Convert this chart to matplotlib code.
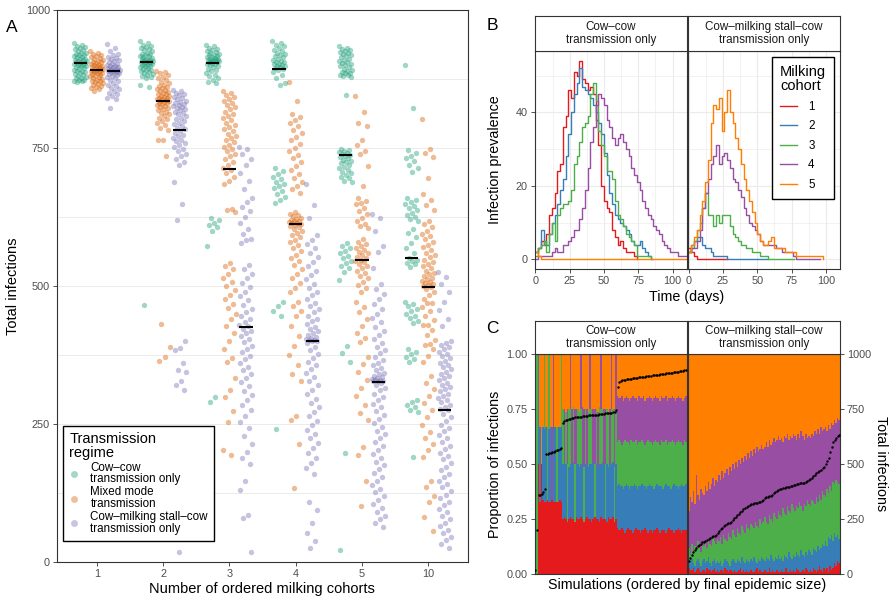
import numpy as np
import matplotlib
matplotlib.use("Agg")
import matplotlib.pyplot as plt
from matplotlib.lines import Line2D

plt.rcParams['font.family'] = ['Liberation Sans', 'DejaVu Sans']

# ---------------- Panel A: total infections per simulation ----------------
cohort_groups = ['1', '2', '3', '4', '5', '10']
regime_names = ['Cow\u2013cow\ntransmission only', 'Mixed mode\ntransmission',
                'Cow\u2013milking stall\u2013cow\ntransmission only']
regime_colors = ['#1B9E77', '#D95F02', '#7570B3']

cc_1 = [940, 937, 935, 933, 931, 929, 927, 925, 923, 922, 920, 919, 918, 916, 915, 914, 912, 911, 910, 909,
        908, 907, 906, 905, 904, 903, 902, 901, 900, 899, 898, 896, 895, 893, 892, 890, 889, 887, 885, 884,
        882, 880, 879, 877, 876, 874, 873, 872, 871, 870]
mix_1 = [925, 923, 921, 919, 917, 915, 913, 911, 909, 908, 906, 905, 904, 903, 901, 900, 899, 898, 897, 896,
         895, 894, 893, 892, 891, 890, 889, 888, 887, 886, 885, 884, 882, 881, 880, 878, 877, 875, 874, 872,
         871, 869, 867, 866, 864, 862, 860, 858, 856, 854]
stall_1 = [938, 932, 925, 921, 918, 915, 913, 911, 909, 907, 905, 903, 902, 900, 899, 898, 897, 896, 895, 894,
           893, 892, 891, 891, 890, 890, 889, 888, 887, 886, 885, 884, 882, 880, 878, 876, 874, 871, 868, 865,
           862, 859, 856, 853, 850, 847, 844, 841, 838, 822]
cc_2 = [943, 940, 937, 935, 933, 931, 929, 927, 925, 923, 921, 920, 918, 917, 916, 915, 913, 912, 911, 910,
        909, 908, 907, 907, 906, 906, 905, 904, 903, 902, 901, 900, 899, 898, 897, 895, 894, 892, 891, 889,
        887, 886, 884, 882, 880, 878, 876, 865, 860, 465]
mix_2 = [889, 887, 885, 882, 878, 876, 873, 870, 868, 865, 863, 861, 859, 857, 855, 853, 851, 850, 848, 847,
         845, 844, 842, 841, 840, 839, 838, 837, 836, 835, 834, 832, 831, 829, 828, 826, 824, 822, 820, 818,
         816, 813, 811, 808, 805, 802, 799, 795, 791, 787, 783, 765, 764, 736, 431, 389, 372, 364]
stall_2 = [855, 853, 850, 848, 846, 843, 840, 838, 836, 834, 832, 830, 828, 826, 824, 822, 820, 818, 816, 813,
           811, 808, 805, 802, 799, 796, 793, 790, 787, 784, 780, 777, 774, 771, 768, 765, 762, 759, 756, 752,
           748, 744, 740, 735, 730, 725, 720, 689, 649, 620, 401, 388, 384, 361, 347, 344, 328, 320, 311, 19]
cc_3 = [937, 935, 932, 930, 928, 926, 924, 922, 921, 919, 918, 917, 915, 914, 913, 912, 911, 910, 909, 909,
        908, 907, 907, 906, 905, 904, 903, 902, 900, 898, 896, 894, 892, 889, 886, 883, 880, 877, 873, 870,
        867, 624, 620, 615, 611, 606, 600, 572, 299, 290]
mix_3 = [854, 850, 846, 842, 838, 835, 831, 828, 824, 820, 816, 812, 808, 804, 800, 796, 792, 788, 784, 780,
         776, 772, 768, 764, 760, 756, 752, 748, 744, 740, 735, 730, 725, 720, 714, 710, 705, 698, 690, 684,
         640, 637, 634, 541, 536, 530, 522, 515, 508, 500, 492, 484, 476, 468, 460, 450, 440, 428, 415, 400,
         385, 370, 363, 334, 312, 299, 273, 254, 203, 193]
stall_3 = [752, 748, 740, 730, 720, 705, 690, 675, 660, 652, 643, 635, 625, 615, 604, 595, 586, 583, 577, 538,
           530, 522, 514, 506, 498, 490, 482, 474, 466, 459, 452, 446, 440, 435, 430, 427, 423, 419, 414, 409,
           404, 398, 392, 386, 380, 374, 368, 361, 354, 347, 340, 333, 326, 318, 310, 302, 293, 284, 275, 265,
           254, 242, 228, 214, 200, 189, 178, 146, 130, 86, 79, 19]
cc_4 = [943, 940, 937, 934, 931, 928, 925, 922, 920, 918, 916, 914, 912, 910, 908, 906, 905, 903, 902, 900,
        899, 898, 896, 895, 894, 892, 888, 882, 876, 868, 864, 714, 708, 702, 697, 693, 689, 685, 681, 677,
        672, 667, 661, 655, 650, 471, 463, 455, 446, 241]
mix_4 = [870, 835, 812, 806, 800, 795, 789, 783, 777, 770, 764, 757, 750, 744, 738, 731, 724, 717, 710, 703,
         696, 689, 682, 675, 669, 634, 631, 628, 626, 624, 622, 620, 618, 617, 616, 615, 614, 613, 611, 609,
         606, 603, 600, 596, 592, 588, 584, 579, 574, 569, 563, 557, 551, 545, 538, 530, 522, 514, 505, 497,
         490, 471, 463, 455, 446, 427, 410, 392, 375, 356, 340, 328, 264, 257, 213, 134]
stall_4 = [685, 647, 624, 592, 584, 576, 568, 560, 552, 544, 536, 528, 520, 512, 504, 497, 490, 483, 476, 470,
           464, 458, 452, 446, 441, 436, 431, 426, 422, 418, 414, 411, 408, 406, 404, 403, 402, 401, 400, 396,
           390, 384, 377, 370, 363, 356, 349, 342, 335, 328, 320, 312, 304, 296, 288, 280, 272, 264, 256, 248,
           240, 232, 224, 216, 207, 198, 189, 180, 170, 159, 108, 95, 70, 52, 38, 25]
cc_5 = [934, 932, 930, 928, 926, 924, 922, 920, 918, 916, 914, 912, 910, 908, 906, 904, 902, 900, 898, 896,
        894, 892, 890, 888, 886, 885, 883, 882, 880, 879, 846, 749, 747, 745, 743, 741, 739, 737, 735, 733,
        731, 729, 727, 725, 722, 719, 716, 713, 710, 707, 704, 701, 698, 695, 691, 688, 577, 572, 568, 563,
        559, 555, 550, 546, 541, 537, 532, 526, 510, 391, 378, 363, 197, 22]
mix_5 = [844, 815, 796, 790, 765, 755, 745, 739, 717, 682, 660, 654, 650, 648, 642, 636, 630, 624, 618, 612,
         608, 605, 585, 580, 576, 572, 568, 565, 562, 559, 556, 553, 550, 548, 546, 543, 540, 536, 532, 528,
         524, 519, 514, 508, 502, 496, 490, 471, 462, 452, 440, 428, 415, 405, 398, 372, 358, 345, 330, 316,
         300, 285, 270, 257, 209, 193, 146, 101]
stall_5 = [631, 624, 600, 573, 561, 532, 503, 494, 485, 476, 467, 458, 450, 442, 434, 426, 418, 411, 404, 397,
           390, 384, 378, 372, 366, 361, 356, 351, 347, 343, 340, 337, 335, 333, 331, 330, 329, 328, 327, 327,
           325, 321, 316, 311, 305, 299, 293, 287, 280, 273, 266, 259, 252, 245, 238, 231, 224, 217, 210, 203,
           196, 189, 182, 175, 168, 161, 154, 147, 140, 133, 126, 119, 112, 105, 98, 91, 84, 77, 70, 63]
cc_10 = [900, 822, 746, 741, 736, 731, 726, 720, 713, 707, 660, 656, 652, 648, 645, 641, 637, 633, 629, 625,
         621, 618, 603, 596, 588, 578, 568, 559, 550, 548, 545, 542, 539, 535, 471, 467, 463, 458, 454, 450,
         446, 442, 437, 433, 385, 381, 376, 372, 367, 363, 293, 289, 285, 280, 276, 271, 191]
mix_10 = [802, 749, 741, 733, 696, 666, 656, 647, 637, 618, 612, 606, 600, 595, 590, 585, 580, 575, 570, 565,
          560, 556, 552, 548, 544, 540, 536, 532, 528, 524, 521, 518, 515, 512, 509, 507, 505, 503, 501, 500,
          498, 494, 490, 484, 477, 470, 470, 462, 454, 446, 438, 430, 430, 421, 412, 403, 395, 394, 385, 374,
          363, 337, 325, 313, 300, 288, 275, 262, 248, 235, 224, 213, 202, 191, 146, 135, 120, 108, 82, 57]
stall_10 = [525, 516, 503, 490, 471, 456, 441, 427, 401, 397, 393, 389, 385, 381, 377, 373, 369, 365, 361, 357,
            353, 349, 345, 341, 337, 333, 329, 325, 321, 317, 313, 309, 305, 301, 297, 293, 289, 285, 281, 277,
            275, 269, 262, 256, 249, 243, 237, 230, 224, 218, 211, 205, 198, 192, 186, 179, 173, 167, 160, 154,
            147, 141, 135, 128, 122, 116, 109, 103, 96, 90, 84, 77, 71, 65, 58, 52, 46, 39, 32, 25]

# ---------------- Panel B: prevalence per milking cohort (every 2 days) ----------------
cohort_ids = ['1', '2', '3', '4', '5']
set1 = ['#E41A1C', '#377EB8', '#4DAF4A', '#984EA3', '#FF7F00']

prev_cc_1 = [2, 3, 5, 4, 7, 12, 14, 18, 24, 26, 36, 39, 46, 44, 51, 50, 54, 49, 48, 46, 47, 45, 38, 31, 20,
             16, 14, 13, 8, 6, 4, 5, 3, 2, 2, 2, 1, 0]
prev_cc_2 = [2, 3, 8, 5, 4, 7, 10, 12, 15, 19, 22, 28, 34, 40, 45, 48, 52, 47, 46, 45, 44, 42, 40, 37, 34,
             29, 23, 18, 15, 12, 11, 10, 9, 8, 7, 5, 4, 4, 5, 3, 2, 1, 0]
prev_cc_3 = [1, 3, 4, 5, 2, 7, 10, 5, 12, 14, 15, 15, 16, 19, 26, 28, 32, 36, 37, 39, 45, 48, 43, 35, 31,
             28, 24, 24, 22, 16, 12, 11, 9, 7, 6, 5, 4, 1, 1, 1, 1, 1, 0]
prev_cc_4 = [0, 1, 1, 1, 1, 1, 2, 3, 2, 2, 4, 4, 5, 6, 8, 8, 11, 14, 19, 25, 32, 36, 42, 45, 44, 42, 38, 36,
             33, 31, 33, 34, 32, 30, 28, 25, 23, 21, 19, 16, 14, 12, 11, 9, 8, 7, 5, 4, 3, 2, 2, 2, 1, 1, 1]
prev_cc_5 = [2, 1, 0]
end_cc = [74, 84, 85, 110, 110]

prev_st_1 = [3, 2, 1, 0]
prev_st_2 = [2, 4, 5, 6, 6, 4, 3, 3, 2, 1, 1, 1, 1, 1, 0]
prev_st_3 = [2, 3, 5, 8, 10, 14, 18, 12, 12, 9, 12, 10, 12, 12, 12, 9, 7, 6, 5, 4, 4, 3, 3, 2, 2, 2, 1, 1,
             1, 0]
prev_st_4 = [2, 3, 3, 5, 8, 14, 18, 22, 26, 28, 31, 26, 28, 29, 27, 25, 22, 21, 19, 17, 14, 12, 10, 9, 8, 7,
             5, 4, 4, 4, 4, 4, 3, 3, 2, 2, 2, 2, 1, 0]
prev_st_5 = [2, 4, 6, 8, 12, 16, 21, 27, 37, 42, 41, 44, 35, 40, 46, 40, 37, 33, 30, 26, 22, 19, 16, 13, 10,
             7, 5, 4, 4, 5, 6, 3, 3, 3, 3, 2, 2, 2, 2, 1, 1, 1, 1, 1, 1, 1, 1, 1, 1, 0]
end_st = [28, 58, 77, 96, 98]

# ---------------- Panel C: share of infections per cohort (cumulative %, red..purple) ----------------
tot_cc = [20, 200, 360, 362, 366, 372, 390, 545, 548, 550, 552, 555, 557, 560, 563, 566, 570, 575,
          690, 695, 700, 703, 706, 708, 710, 712, 713, 714, 715, 716, 717, 718, 719, 720, 721, 722, 722, 723,
          724, 725, 725, 726, 727, 728, 729, 730, 731, 732, 733, 734, 735, 736, 740, 748,
          853, 876, 880, 882, 884, 885, 887, 888, 889, 890, 891, 892, 893, 894, 895, 896, 897, 898, 899, 900,
          901, 902, 903, 904, 905, 906, 907, 908, 909, 910, 911, 912, 913, 914, 915, 916, 917, 918, 919, 920,
          921, 922, 924, 926, 928, 930]
cum_cc_red = [92, 0, 50, 33, 50, 34, 33, 33, 34, 33, 33, 34, 33, 33, 33, 33, 34, 33,
              25, 26, 25, 24, 25, 26, 25, 25, 24, 26, 25, 25, 26, 25, 24, 25, 26, 25, 25, 24, 25, 26, 25, 25,
              24, 26, 25, 25, 25, 24, 26, 25, 25, 26, 24, 25,
              21, 20, 20, 21, 20, 19, 20, 21, 20, 20, 19, 20, 21, 20, 20, 19, 20, 20, 21, 20, 19, 20, 20, 19,
              20, 20, 21, 20, 19, 20, 20, 20, 19, 20, 21, 20, 20, 19, 20, 20, 21, 20, 19, 20, 20, 20]
cum_cc_blue = [92, 0, 100, 67, 50, 67, 66, 67, 34, 66, 67, 34, 66, 67, 33, 67, 67, 67,
               50, 51, 50, 24, 49, 50, 50, 51, 24, 50, 50, 49, 50, 51, 24, 50, 50, 49, 50, 50, 51, 26, 50, 49,
               50, 50, 51, 50, 25, 50, 49, 50, 50, 51, 24, 50,
               40, 41, 40, 40, 39, 40, 41, 40, 39, 40, 40, 41, 40, 39, 40, 40, 41, 40, 40, 39, 40, 41, 40, 40,
               39, 40, 41, 40, 40, 40, 39, 40, 41, 40, 40, 39, 40, 41, 40, 40, 39, 40, 41, 40, 40, 41]
cum_cc_green = [95, 100, 100, 67, 50, 67, 100, 67, 67, 100, 67, 34, 66, 67, 67, 67, 67, 100,
                75, 51, 74, 50, 75, 75, 50, 76, 50, 50, 75, 74, 75, 51, 49, 75, 50, 74, 75, 75, 51, 50, 75, 49,
                76, 75, 75, 50, 50, 75, 74, 50, 75, 75, 49, 75,
                60, 61, 60, 59, 60, 61, 60, 60, 59, 61, 60, 60, 61, 59, 60, 60, 61, 60, 59, 60, 61, 60, 60, 59,
                60, 61, 60, 60, 59, 61, 60, 60, 61, 59, 60, 60, 61, 60, 59, 60, 61, 60, 60, 59, 61, 60]
cum_cc_purple = [95, 100, 100, 67, 50, 67, 100, 67, 67, 100, 67, 67, 100, 67, 67, 67, 67, 100,
                 75, 75, 74, 75, 75, 100, 75, 76, 75, 75, 75, 74, 100, 76, 75, 75, 75, 74, 100, 75, 75, 75, 75,
                 74, 76, 100, 75, 75, 75, 75, 74, 75, 100, 75, 75, 100,
                 81, 80, 80, 81, 79, 80, 81, 80, 79, 80, 81, 80, 80, 79, 81, 80, 80, 81, 79, 80, 80, 81, 80, 79,
                 80, 81, 80, 80, 79, 81, 80, 80, 81, 79, 80, 80, 81, 80, 79, 80, 81, 80, 80, 79, 80, 81]

tot_st = [62, 75, 90, 100, 112, 120, 128, 135, 140, 145, 148, 150, 155, 160, 165, 168, 172, 175, 180, 188,
          195, 205, 212, 220, 225, 230, 232, 235, 240, 248, 255, 262, 268, 275, 282, 290, 298, 302, 306, 310,
          314, 318, 320, 322, 324, 326, 328, 330, 333, 338, 345, 350, 352, 355, 358, 362, 368, 375, 380, 385,
          388, 390, 392, 394, 395, 396, 398, 400, 402, 405, 408, 410, 412, 413, 414, 415, 416, 418, 422, 428,
          435, 440, 445, 452, 460, 465, 470, 475, 482, 490, 500, 515, 530, 555, 580, 600, 612, 620, 630, 635]
cum_st_red = [3, 2, 2, 3, 1, 2, 3, 2, 1, 2, 2, 1, 3, 2, 2, 1, 2, 3, 1, 2, 1, 2, 2, 1, 3, 2, 1, 2, 2, 1,
              2, 1, 1, 2, 3, 1, 2, 1, 2, 1, 1, 2, 1, 1, 2, 3, 1, 2, 1, 1, 2, 1, 1, 3, 1, 2, 1, 1, 2, 1,
              1, 2, 1, 1, 3, 1, 1, 2, 1, 2, 1, 3, 2, 1, 1, 2, 1, 3, 2, 1, 2, 1, 3, 2, 1, 2, 4, 2, 1, 3,
              2, 3, 1, 4, 2, 3, 5, 4, 6, 5]
cum_st_blue = [6, 5, 7, 5, 4, 6, 7, 5, 4, 6, 7, 5, 6, 8, 5, 4, 6, 7, 5, 6, 5, 6, 4, 5, 7, 6, 5, 4, 6, 7,
               6, 5, 7, 6, 5, 8, 6, 5, 7, 6, 5, 7, 6, 8, 6, 5, 7, 6, 8, 7, 6, 8, 7, 6, 9, 7, 6, 8, 7, 9,
               7, 8, 6, 9, 8, 7, 10, 8, 7, 9, 8, 10, 9, 8, 11, 9, 8, 10, 9, 11, 10, 9, 12, 11, 10, 13, 11, 12,
               14, 13, 15, 13, 17, 16, 18, 15, 19, 17, 18, 16]
cum_st_green = [12, 9, 14, 10, 13, 11, 15, 12, 10, 14, 13, 15, 12, 16, 14, 13, 17, 15, 14, 16, 15, 17, 14, 18,
                16, 15, 19, 17, 16, 20, 18, 17, 21, 19, 18, 22, 20, 19, 23, 21, 20, 23, 22, 21, 24, 22, 21, 25,
                23, 24, 26, 24, 23, 27, 25, 24, 28, 26, 25, 29, 27, 26, 30, 28, 27, 31, 29, 28, 32, 30, 29, 31,
                30, 33, 31, 29, 32, 31, 34, 32, 31, 34, 33, 32, 35, 33, 36, 34, 38, 36, 35, 39, 37, 40, 38, 42,
                41, 43, 42, 41]
cum_st_purple = [29, 35, 33, 38, 32, 45, 36, 34, 39, 37, 36, 40, 38, 42, 39, 41, 44, 40, 43, 42, 45, 43, 47, 44,
                 46, 48, 45, 49, 47, 50, 48, 51, 49, 52, 50, 53, 51, 54, 52, 55, 53, 56, 54, 57, 55, 58, 56, 57,
                 59, 57, 58, 60, 58, 61, 59, 60, 62, 60, 61, 63, 61, 62, 60, 63, 62, 64, 61, 63, 62, 64, 63, 61,
                 64, 62, 65, 63, 61, 64, 62, 63, 62, 64, 63, 65, 64, 66, 64, 67, 65, 66, 67, 65, 68, 66, 69, 68,
                 70, 69, 71, 70]

W, H = 896, 604
DARK = '#333333'
TICKTXT = '#4D4D4D'
GRID = '#EBEBEB'

fig = plt.figure(figsize=(W / 100, H / 100), dpi=100)


def px_axes(x0, y0, x1, y1):
    return fig.add_axes([x0 / W, 1 - y1 / H, (x1 - x0) / W, (y1 - y0) / H])


def gg_style(ax):
    for s in ax.spines.values():
        s.set_color(DARK)
        s.set_linewidth(0.8)
    ax.tick_params(which='major', colors=DARK, labelcolor=TICKTXT, labelsize=7.8,
                   length=3, width=0.6, pad=2)
    ax.tick_params(which='minor', length=0)


def strip(x0, y0, x1, y1, text):
    s = px_axes(x0, y0, x1, y1)
    s.set_xticks([])
    s.set_yticks([])
    for sp in s.spines.values():
        sp.set_color(DARK)
        sp.set_linewidth(0.8)
    s.text(0.5, 0.5, text, ha='center', va='center', fontsize=8.4, color='#1A1A1A',
           linespacing=1.05, transform=s.transAxes)


def txt(x, y, s, **kw):
    fig.text(x / W, 1 - y / H, s, ha='center', va='center', **kw)


# ---------------- A ----------------
axA = px_axes(57, 10, 468, 562)
gg_style(axA)
groups = [[cc_1, mix_1, stall_1], [cc_2, mix_2, stall_2], [cc_3, mix_3, stall_3],
          [cc_4, mix_4, stall_4], [cc_5, mix_5, stall_5], [cc_10, mix_10, stall_10]]
dodge = [-0.25, 0.0, 0.25]
for gi, grp in enumerate(groups):
    for ri, vals in enumerate(grp):
        vals = np.asarray(vals, dtype=float)
        n = len(vals)
        # deterministic jitter spread (golden-ratio sequence)
        jit = ((np.arange(n) * 0.618034) % 1.0 - 0.5) * 0.2
        xc = gi + 1 + dodge[ri]
        axA.scatter(xc + jit, vals, s=15, color=regime_colors[ri], alpha=0.42, lw=0, zorder=2)
        axA.hlines(np.median(vals), xc - 0.1, xc + 0.1, color='black', lw=1.5, zorder=3)

axA.set_xlim(0.4, 6.6)
axA.set_ylim(0, 1000)
axA.set_xticks(range(1, 7))
axA.set_xticklabels(cohort_groups)
axA.set_yticks([0, 250, 500, 750, 1000])
axA.set_yticks([125, 375, 625, 875], minor=True)
axA.grid(axis='y', which='both', color=GRID, lw=0.7)
axA.set_axisbelow(True)

handles = [Line2D([], [], marker='o', ls='', color=c, alpha=0.4, markersize=5, markeredgewidth=0)
           for c in regime_colors]
legA = axA.legend(handles, regime_names, title='Transmission\nregime', loc='lower left',
                  bbox_to_anchor=(63 / W, 1 - 541 / H), bbox_transform=fig.transFigure,
                  borderaxespad=0, fancybox=False, edgecolor='black', fontsize=8.4,
                  title_fontsize=10.5, labelspacing=0.1, handlelength=0.8, handletextpad=1.0,
                  borderpad=0.55, alignment='left', framealpha=1)
legA.get_frame().set_linewidth(1.0)
for t in legA.get_texts():
    t.set_linespacing(0.95)
legA.get_title().set_linespacing(1.0)

txt(13, 286, 'Total infections', fontsize=10.5, rotation=90)
txt(262, 589, 'Number of ordered milking cohorts', fontsize=10.5)
txt(12, 28, 'A', fontsize=12.5)

# ---------------- B ----------------
facet_names = ['Cow\u2013cow\ntransmission only', 'Cow\u2013milking stall\u2013cow\ntransmission only']
prev_sets = [[prev_cc_1, prev_cc_2, prev_cc_3, prev_cc_4, prev_cc_5],
             [prev_st_1, prev_st_2, prev_st_3, prev_st_4, prev_st_5]]
end_sets = [end_cc, end_st]
b_x = [(534.7, 686.7), (688, 840)]
for fi in range(2):
    x0, x1 = b_x[fi]
    ax = px_axes(x0, 51, x1, 269.3)
    gg_style(ax)
    strip(x0, 15.7, x1, 51, facet_names[fi])
    for ci in range(5):
        vals = np.asarray(prev_sets[fi][ci], dtype=float)
        t = np.arange(len(vals)) * 2.0
        t = np.append(t, end_sets[fi][ci])
        v = np.append(vals, vals[-1])
        ax.step(t, v, where='post', color=set1[ci], lw=1.0, label=cohort_ids[ci])
    ax.set_xlim(-0.5, 110.3)
    ax.set_ylim(-2.7, 56.7)
    ax.set_xticks([0, 25, 50, 75, 100])
    ax.set_xticks([12.5, 37.5, 62.5, 87.5], minor=True)
    ax.set_yticks([0, 20, 40])
    ax.set_yticks([10, 30, 50], minor=True)
    ax.grid(which='major', color=GRID, lw=0.8)
    ax.grid(which='minor', color=GRID, lw=0.45)
    ax.set_axisbelow(True)
    if fi == 1:
        ax.tick_params(left=False, labelleft=False)
        legB = ax.legend(title='Milking\ncohort', loc='upper left',
                         bbox_to_anchor=(772 / W, 1 - 57 / H), bbox_transform=fig.transFigure,
                         borderaxespad=0, fancybox=False, edgecolor='black', fontsize=8.4,
                         title_fontsize=10.5, labelspacing=0.65, handlelength=1.4,
                         handletextpad=1.0, borderpad=0.7, alignment='left', framealpha=1)
        legB.get_frame().set_linewidth(1.0)
        legB.get_title().set_linespacing(1.0)

txt(495, 160, 'Infection prevalence', fontsize=10.3, rotation=90)
txt(687, 297, 'Time (days)', fontsize=10.3)
txt(492, 26, 'B', fontsize=12.5)

# ---------------- C ----------------
cum_sets = [[cum_cc_red, cum_cc_blue, cum_cc_green, cum_cc_purple],
            [cum_st_red, cum_st_blue, cum_st_green, cum_st_purple]]
tot_sets = [tot_cc, tot_st]
for fi in range(2):
    x0, x1 = b_x[fi]
    ax = px_axes(x0, 354.3, x1, 574.3)
    gg_style(ax)
    strip(x0, 320.7, x1, 354.3, facet_names[fi])
    tops = np.asarray(cum_sets[fi], dtype=float) / 100.0
    n = tops.shape[1]
    edges = np.vstack([np.zeros(n), tops, np.ones(n)])
    heights = np.clip(np.diff(edges, axis=0), 0, None)
    xs = np.arange(n)
    for ci in range(5):
        ax.bar(xs, heights[ci], bottom=edges[ci], width=1.0, color=set1[ci], lw=0, zorder=1)
    ax.scatter(xs, np.asarray(tot_sets[fi]) / 1000.0, s=3, color='black', lw=0, zorder=3)
    ax.set_xlim(-0.5, n - 0.5)
    ax.set_ylim(0, 1)
    ax.set_xticks([])
    ax.set_yticks([0, 0.25, 0.5, 0.75, 1.0])
    if fi == 0:
        ax.set_yticklabels(['0.00', '0.25', '0.50', '0.75', '1.00'])
    else:
        ax.yaxis.tick_right()
        ax.set_yticklabels(['0', '250', '500', '750', '1000'])
        ax.tick_params(left=False, labelleft=False, right=True, labelright=True)

txt(495, 464, 'Proportion of infections', fontsize=10.3, rotation=90)
txt(881, 464, 'Total infections', fontsize=10.3, rotation=270)
txt(687, 585, 'Simulations (ordered by final epidemic size)', fontsize=10.3)
txt(492, 329, 'C', fontsize=12.5)

fig.savefig('out.png', dpi=100)
